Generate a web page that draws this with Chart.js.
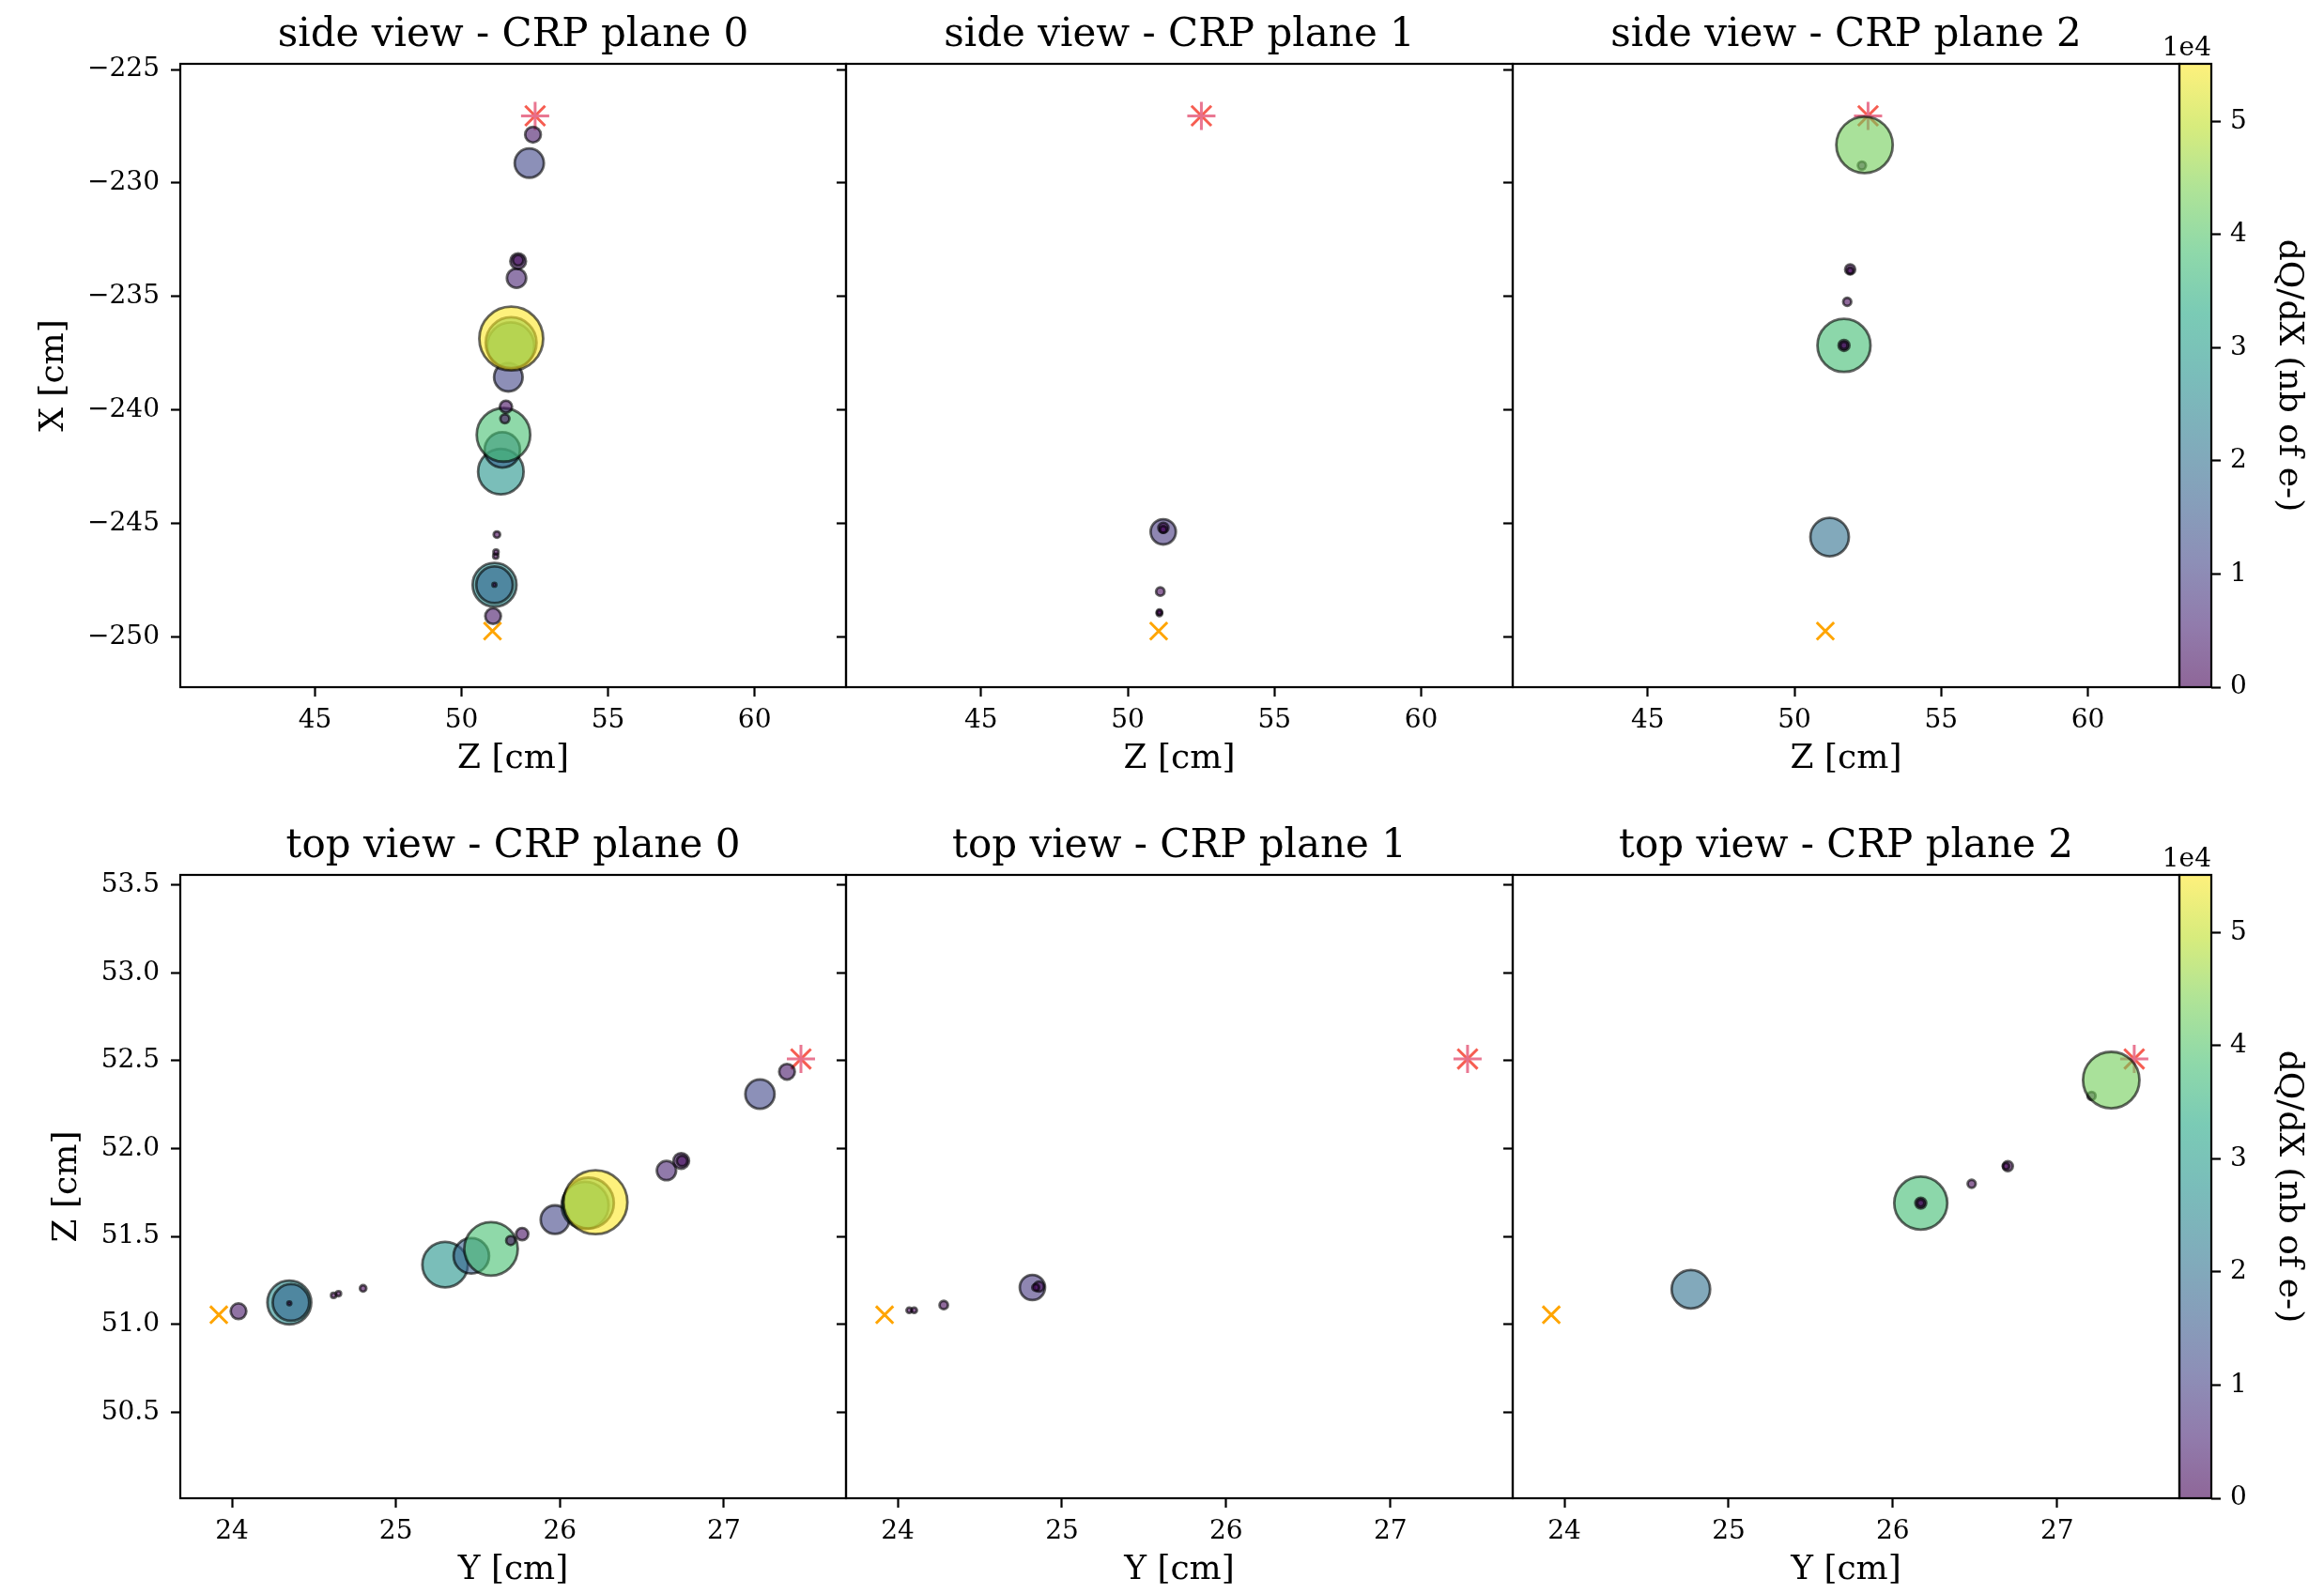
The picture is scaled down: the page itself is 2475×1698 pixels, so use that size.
<!DOCTYPE html>
<html>
<head>
<meta charset="utf-8">
<title>CRP planes - side and top views</title>
<script src="https://cdn.jsdelivr.net/npm/chart.js@4.4.1/dist/chart.umd.min.js"></script>
<style>
  html, body { margin: 0; padding: 0; background: #fff; }
  #fig { position: relative; width: 2475px; height: 1698px; overflow: hidden; }
  #fig canvas { position: absolute; }
</style>
</head>
<body>
<div id="fig"></div>
<script>
// ---- hits per CRP plane: Y, Z, X in cm, dQ/dX in electrons ----
const plane0Y  = [24.04, 24.35, 24.36, 24.35, 24.62, 24.65, 24.80, 25.30, 25.46, 25.58, 25.70, 25.77, 25.97, 26.154, 26.174, 26.217, 26.65, 26.74, 26.745, 27.22, 27.385];
const plane0Z  = [51.075, 51.125, 51.125, 51.12, 51.165, 51.175, 51.205, 51.34, 51.39, 51.43, 51.477, 51.514, 51.596, 51.677, 51.69, 51.695, 51.875, 51.93, 51.93, 52.31, 52.437];
const plane0X  = [-249.07, -247.69, -247.69, -247.69, -246.43, -246.25, -245.48, -242.71, -241.75, -241.09, -240.38, -239.85, -238.55, -237.17, -237.03, -236.85, -234.19, -233.44, -233.40, -229.12, -227.87];
const plane0DQ = [3300, 26000, 18000, 200, 350, 350, 550, 28000, 17000, 38700, 1100, 2000, 11000, 30000, 35000, 55100, 5000, 3300, 1500, 11500, 3300];

const plane1Y  = [24.07, 24.10, 24.28, 24.82, 24.86, 24.84];
const plane1Z  = [51.08, 51.08, 51.11, 51.21, 51.215, 51.21];
const plane1X  = [-248.95, -248.89, -247.99, -245.36, -245.18, -245.25];
const plane1DQ = [400, 400, 950, 8600, 1360, 620];

const plane2Y  = [24.77, 26.17, 26.17, 26.17, 26.48, 26.70, 26.69, 27.21, 27.33];
const plane2Z  = [51.20, 51.69, 51.69, 51.69, 51.80, 51.90, 51.90, 52.30, 52.39];
const plane2X  = [-245.59, -237.15, -237.15, -237.15, -235.23, -233.80, -233.86, -229.23, -228.32];
const plane2DQ = [20000, 38000, 1600, 700, 870, 1360, 550, 870, 43000];

// track start / end points: [Y, Z, X]
const trackStart = [23.92, 51.055, -249.73];
const trackEnd   = [27.47, 52.51, -227.04];

// axis ticks and limits
const sideZTicks = [45, 50, 55, 60];
const sideXTicks = [-250, -245, -240, -235, -230, -225];
const topYTicks  = [24, 25, 26, 27];
const topZTicks  = [50.5, 51.0, 51.5, 52.0, 52.5, 53.0, 53.5];
const cbarTicks  = [0, 1, 2, 3, 4, 5]; // x 1e4

const sideZRange = [40.40, 63.12];
const sideXRange = [-252.2, -224.75];
const topYRange  = [23.685, 27.745];
const topZRange  = [50.011, 53.557];

const planes = [
  { y: plane0Y, z: plane0Z, x: plane0X, dq: plane0DQ },
  { y: plane1Y, z: plane1Z, x: plane1X, dq: plane1DQ },
  { y: plane2Y, z: plane2Z, x: plane2X, dq: plane2DQ },
];
const DQ_MAX = Math.max(...plane0DQ, ...plane1DQ, ...plane2DQ);

// ---- styling ----
const FONT = 'DejaVu Serif';
Chart.defaults.font.family = FONT;
Chart.defaults.color = '#000';

const VIRIDIS = ['#440154', '#482475', '#414487', '#355f8d', '#2a788e', '#21918c',
                 '#22a884', '#44bf70', '#7ad151', '#bddf26', '#fde725'];
const hexRgb = h => [1, 3, 5].map(i => parseInt(h.slice(i, i + 2), 16));

function viridis(t, alpha) {
  t = Math.min(1, Math.max(0, t));
  const f = t * (VIRIDIS.length - 1);
  const i = Math.min(VIRIDIS.length - 2, Math.floor(f));
  const a = hexRgb(VIRIDIS[i]), b = hexRgb(VIRIDIS[i + 1]);
  const k = f - i;
  const c = a.map((v, j) => Math.round(v + (b[j] - v) * k));
  return `rgba(${c[0]},${c[1]},${c[2]},${alpha})`;
}

const hitRadius = q => Math.max(1.5, 34 * Math.sqrt(q / DQ_MAX));
const minusFmt = v => String(v).replace('-', '\u2212');
const oneDec = v => v.toFixed(1);

const frame = {
  id: 'frame',
  afterDraw(chart) {
    const { ctx, chartArea: a } = chart;
    ctx.save();
    ctx.strokeStyle = '#000';
    ctx.lineWidth = 2.2;
    ctx.strokeRect(a.left, a.top, a.right - a.left, a.bottom - a.top);
    ctx.restore();
  }
};

const colorbarFill = {
  id: 'colorbarFill',
  beforeDatasetsDraw(chart) {
    const { ctx, chartArea: a } = chart;
    const g = ctx.createLinearGradient(0, a.bottom, 0, a.top);
    VIRIDIS.forEach((c, i) => g.addColorStop(i / (VIRIDIS.length - 1), viridis(i / (VIRIDIS.length - 1), 0.6)));
    ctx.save();
    ctx.fillStyle = g;
    ctx.fillRect(a.left, a.top, a.right - a.left, a.bottom - a.top);
    ctx.restore();
  }
};

// scale factor text above the colorbar
const offsetLabel = {
  id: 'offsetLabel',
  afterDraw(chart) {
    const { ctx, chartArea: a } = chart;
    ctx.save();
    ctx.font = `28px "${FONT}"`;
    ctx.fillStyle = '#000';
    ctx.textAlign = 'right';
    ctx.textBaseline = 'alphabetic';
    ctx.fillText('1e4', a.right, a.top - 9);
    ctx.restore();
  }
};

function axis(range, ticks, fmt, o) {
  return {
    type: 'linear',
    position: o.position,
    min: range[0],
    max: range[1],
    afterBuildTicks: s => { s.ticks = ticks.map(v => ({ value: v })); },
    afterFit: s => {
      if (o.width != null) s.width = o.width;
      if (o.height != null) s.height = o.height;
      s.paddingLeft = s.paddingRight = s.paddingTop = s.paddingBottom = 0;
    },
    ticks: { display: o.labels !== false, callback: fmt, font: { size: 28 }, padding: o.pad || 0,
             color: '#000', autoSkip: false, maxRotation: 0 },
    grid: { display: true, drawOnChartArea: false, drawTicks: true, tickLength: 10,
            tickWidth: 2.2, tickColor: '#000' },
    border: { display: false },
    title: { display: !!o.title, text: o.title, font: { size: 36 }, color: '#000', padding: o.titlePad || 0 }
  };
}

function hitDataset(xs, ys, dq) {
  return {
    data: xs.map((v, i) => ({ x: v, y: ys[i] })),
    pointRadius: dq.map(hitRadius),
    pointBackgroundColor: dq.map(q => viridis(q / DQ_MAX, 0.6)),
    pointBorderColor: 'rgba(0,0,0,0.6)',
    pointBorderWidth: 2.8,
  };
}

function markerDatasets(hIdx, vIdx) {
  return [
    { data: [{ x: trackEnd[hIdx], y: trackEnd[vIdx] }], pointStyle: 'cross', pointRadius: 15,
      pointBorderColor: 'rgba(232,112,140,0.95)', pointBorderWidth: 3 },
    { data: [{ x: trackEnd[hIdx], y: trackEnd[vIdx] }], pointStyle: 'crossRot', pointRadius: 15,
      pointBorderColor: 'rgba(246,84,72,0.95)', pointBorderWidth: 3 },
    { data: [{ x: trackStart[hIdx], y: trackStart[vIdx] }], pointStyle: 'crossRot', pointRadius: 13,
      pointBorderColor: '#ffa500', pointBorderWidth: 3 },
  ];
}

const fig = document.getElementById('fig');
function addCanvas(left, top, width, height) {
  const c = document.createElement('canvas');
  c.width = width; c.height = height;
  c.style.left = left + 'px'; c.style.top = top + 'px';
  c.style.width = width + 'px'; c.style.height = height + 'px';
  fig.appendChild(c);
  return c;
}

// ---- panel layout ----
const cols = [
  { left: 0,    width: 907, yWidth: 192, labels: true },
  { left: 891,  width: 726, yWidth: 10,  labels: false },
  { left: 1601, width: 726, yWidth: 10,  labels: false },
];
const rows = [
  { top: 0, kind: 'side', yTitle: 'X [cm]', xTitle: 'Z [cm]', yTitlePad: 36 },
  { top: 864, kind: 'top', yTitle: 'Z [cm]', xTitle: 'Y [cm]', yTitlePad: 50 },
];

rows.forEach(row => {
  cols.forEach((col, p) => {
    const pl = planes[p];
    const side = row.kind === 'side';
    const hx = side ? pl.z : pl.y;
    const vy = side ? pl.x : pl.z;
    const datasets = [hitDataset(hx, vy, pl.dq), ...markerDatasets(side ? 1 : 0, side ? 2 : 1)];

    new Chart(addCanvas(col.left, row.top, col.width, 834), {
      type: 'scatter',
      data: { datasets },
      plugins: [frame],
      options: {
        responsive: false,
        devicePixelRatio: 1,
        animation: false,
        events: [],
        layout: { autoPadding: false, padding: { left: 0, right: 6, top: 0, bottom: 2 } },
        plugins: {
          legend: { display: false },
          tooltip: { enabled: false },
          title: {
            display: true,
            text: (side ? 'side view' : 'top view') + ' - CRP plane ' + p,
            fullSize: false,
            font: { size: 42, weight: 'normal', lineHeight: 1.2 },
            color: '#000',
            padding: { top: 13.2, bottom: 4.4 },
          },
        },
        scales: {
          x: axis(side ? sideZRange : topYRange, side ? sideZTicks : topYTicks, v => v,
                  { position: 'bottom', height: 100, pad: 9, title: row.xTitle, titlePad: { top: 0, bottom: 1.4 } }),
          y: axis(side ? sideXRange : topZRange, side ? sideXTicks : topZTicks, side ? minusFmt : oneDec,
                  { position: 'left', width: col.yWidth, pad: 12, labels: col.labels,
                    title: col.labels ? row.yTitle : '', titlePad: { top: row.yTitlePad, bottom: 0 } }),
        },
      },
    });
  });

  // colorbar next to the plane 2 panel
  new Chart(addCanvas(2280, row.top, 195, 760), {
    type: 'scatter',
    data: { datasets: [] },
    plugins: [colorbarFill, frame, offsetLabel],
    options: {
      responsive: false,
      devicePixelRatio: 1,
      animation: false,
      events: [],
      layout: { autoPadding: false, padding: { left: 41, right: 0, top: 68, bottom: 28 } },
      plugins: {
        legend: { display: false },
        tooltip: { enabled: false },
        title: { display: false },
      },
      scales: {
        x: { type: 'linear', display: false, min: 0, max: 1 },
        y: axis([0, DQ_MAX], cbarTicks.map(v => v * 1e4), v => v / 1e4,
                { position: 'right', width: 120, pad: 10, title: 'dQ/dX (nb of e-)', titlePad: { top: 16.4, bottom: 0 } }),
      },
    },
  });
});
</script>
</body>
</html>
